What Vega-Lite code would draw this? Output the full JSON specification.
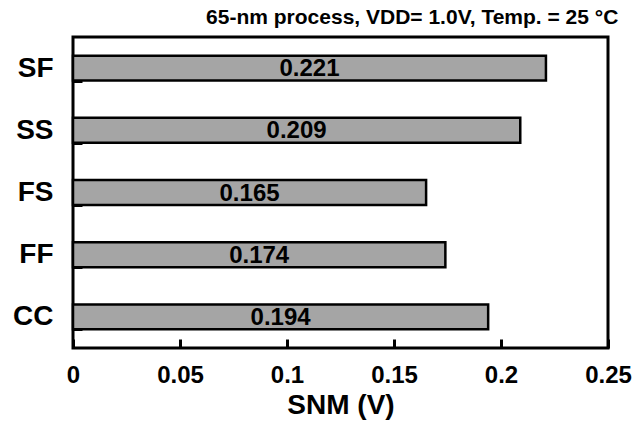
{
  "$schema": "https://vega.github.io/schema/vega-lite/v6.json",
  "width": 535,
  "height": 311,
  "autosize": {"type": "none"},
  "padding": {"left": 73, "top": 37, "right": 27, "bottom": 81},
  "background": "white",
  "title": {
    "text": "65-nm process, VDD= 1.0V, Temp. = 25 °C",
    "anchor": "end",
    "font": "Liberation Sans",
    "fontSize": 21,
    "fontWeight": "bold",
    "color": "black",
    "offset": -5,
    "dx": -13
  },
  "config": {
    "view": {"stroke": "black", "strokeWidth": 3},
    "font": "Liberation Sans"
  },
  "resolve": {"scale": {"x": "independent"}, "axis": {"x": "independent"}},
  "data": {
    "values": [
      {"corner": "SF", "snm": 0.221},
      {"corner": "SS", "snm": 0.209},
      {"corner": "FS", "snm": 0.165},
      {"corner": "FF", "snm": 0.174},
      {"corner": "CC", "snm": 0.194}
    ]
  },
  "encoding": {
    "y": {
      "field": "corner",
      "type": "nominal",
      "sort": ["SF", "SS", "FS", "FF", "CC"],
      "scale": {"paddingInner": 0.6, "paddingOuter": 0.3},
      "axis": {
        "title": null,
        "domain": false,
        "tickBand": "extent",
        "tickSize": -9,
        "tickWidth": 3,
        "tickColor": "black",
        "labelPadding": 29,
        "labelFont": "Liberation Sans",
        "labelFontSize": 28,
        "labelFontWeight": "bold",
        "labelColor": "black"
      }
    }
  },
  "layer": [
    {
      "mark": {"type": "bar", "fill": "#a5a5a5", "stroke": "black", "strokeWidth": 2.5},
      "encoding": {
        "x": {
          "field": "snm",
          "type": "quantitative",
          "scale": {"domain": [0, 0.25], "nice": false},
          "axis": {
            "title": "SNM (V)",
            "titleFont": "Liberation Sans",
            "titleFontSize": 28,
            "titleFontWeight": "bold",
            "titleColor": "black",
            "titlePadding": 4,
            "values": [0, 0.05, 0.1, 0.15, 0.2, 0.25],
            "format": "~g",
            "domain": false,
            "grid": false,
            "tickSize": -9,
            "tickWidth": 3,
            "tickColor": "black",
            "labelPadding": 24,
            "labelFont": "Liberation Sans",
            "labelFontSize": 24,
            "labelFontWeight": "bold",
            "labelColor": "black",
            "labelFlush": false
          }
        }
      }
    },
    {
      "mark": {"type": "text", "font": "Liberation Sans", "fontSize": 24, "fontWeight": "bold", "color": "black", "baseline": "middle", "dy": 1},
      "encoding": {
        "x": {
          "field": "snm",
          "type": "quantitative",
          "scale": {"domain": [0, 0.5], "nice": false},
          "axis": null
        },
        "text": {"field": "snm", "type": "quantitative", "format": ".3f"}
      }
    }
  ]
}
